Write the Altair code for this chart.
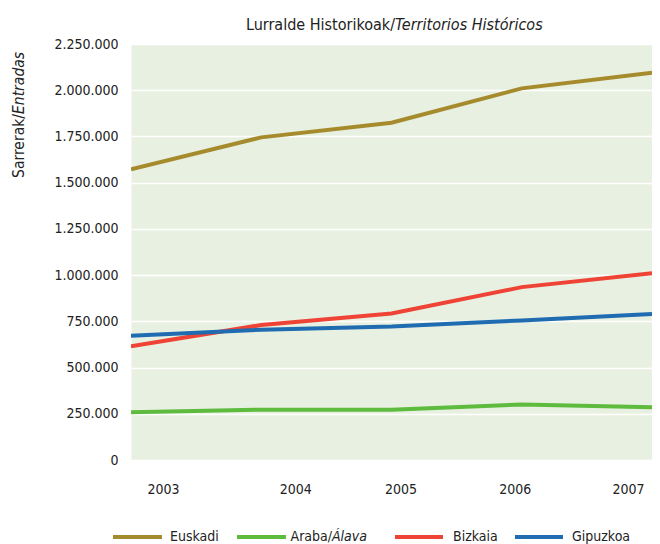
import altair as alt
import pandas as pd

years = [2003, 2004, 2005, 2006, 2007]
euskadi = [1572000, 1745000, 1824000, 2010000, 2094000]
araba = [258000, 272000, 272000, 300000, 285000]
bizkaia = [615000, 730000, 792000, 935000, 1010000]
gipuzkoa = [672000, 705000, 722000, 755000, 790000]
series = ["Euskadi", "Araba/Álava", "Bizkaia", "Gipuzkoa"]
colors = ["#A68B2D", "#5DBB3D", "#EE4335", "#1F6CB1"]
y_ticks = [0, 250000, 500000, 750000, 1000000, 1250000, 1500000, 1750000, 2000000, 2250000]

rows = []
for name, vals in zip(series, [euskadi, araba, bizkaia, gipuzkoa]):
    for yr, v in zip(years, vals):
        rows.append({"serie": name, "year": yr, "value": v})
df = pd.DataFrame(rows)

FONT = "DejaVu Sans Condensed"
TXT = "#222222"
W, H = 521, 416

x_offsets = "datum.value==2003?32:datum.value==2004?34:datum.value==2005?9:datum.value==2006?-7:-24"

lines = alt.Chart(df).mark_line(strokeWidth=4, clip=True).encode(
    x=alt.X("year:Q",
            scale=alt.Scale(domain=[2003, 2007], nice=False, zero=False),
            axis=alt.Axis(values=years, format="d", title=None, domain=False, ticks=False,
                          grid=False, labelFont=FONT, labelFontSize=14, labelColor=TXT,
                          labelPadding=22, labelOffset={"expr": x_offsets},
                          labelOverlap=False, labelBound=False, labelFlush=False)),
    y=alt.Y("value:Q",
            scale=alt.Scale(domain=[0, 2250000], nice=False),
            axis=alt.Axis(values=y_ticks, title=None, domain=False, ticks=False,
                          gridColor="white", gridWidth=1.5, labelFont=FONT,
                          labelFontSize=14, labelColor=TXT, labelPadding=13,
                          labelExpr="replace(replace(format(datum.value, ',d'), ',', '.'), ',', '.')")),
    color=alt.Color("serie:N", scale=alt.Scale(domain=series, range=colors), legend=None),
)


def txt(s, x, y, align="left", style="normal", angle=0, size=14, baseline="alphabetic"):
    return alt.Chart(pd.DataFrame({"t": [s]})).mark_text(
        font=FONT, fontSize=size, fontStyle=style, color=TXT, align=align,
        baseline=baseline, angle=angle
    ).encode(text="t:N", x=alt.value(x), y=alt.value(y))


layers = [lines]
# title
layers.append(txt("Lurralde Historikoak/", 264, -14, align="right", size=16))
layers.append(txt("Territorios Históricos", 264, -14, align="left", style="italic", size=16))
# y title
layers.append(txt("Sarrerak/", -107, 70, align="right", angle=270, size=15.5))
layers.append(txt("Entradas", -107, 70, align="left", angle=270, style="italic", size=15.5))

# legend
LY = 493
leg = [(-18, 31, 39), (106, 155, 164), (264, 312, 322), (384, 432, 441)]
for (x1, x2, lx), name, c in zip(leg, series, colors):
    layers.append(
        alt.Chart(pd.DataFrame({"s": [name]})).mark_rule(strokeWidth=4, color=c)
        .encode(x=alt.value(x1), x2=alt.value(x2), y=alt.value(LY))
    )
    if "/" in name:
        a, b = name.split("/")
        layers.append(txt(a + "/", 201, LY, align="right", baseline="middle"))
        layers.append(txt(b, 201, LY, style="italic", baseline="middle"))
    else:
        layers.append(txt(name, lx, LY, baseline="middle"))

chart = alt.layer(*layers).properties(
    width=W, height=H,
    padding={"left": 123, "top": 36, "right": 0, "bottom": 84},
    autosize=alt.AutoSizeParams(type="none"),
).configure_view(fill="#E8F0E1", strokeOpacity=0)

chart.save("out.html", embed_options={"renderer": "svg", "actions": False})
